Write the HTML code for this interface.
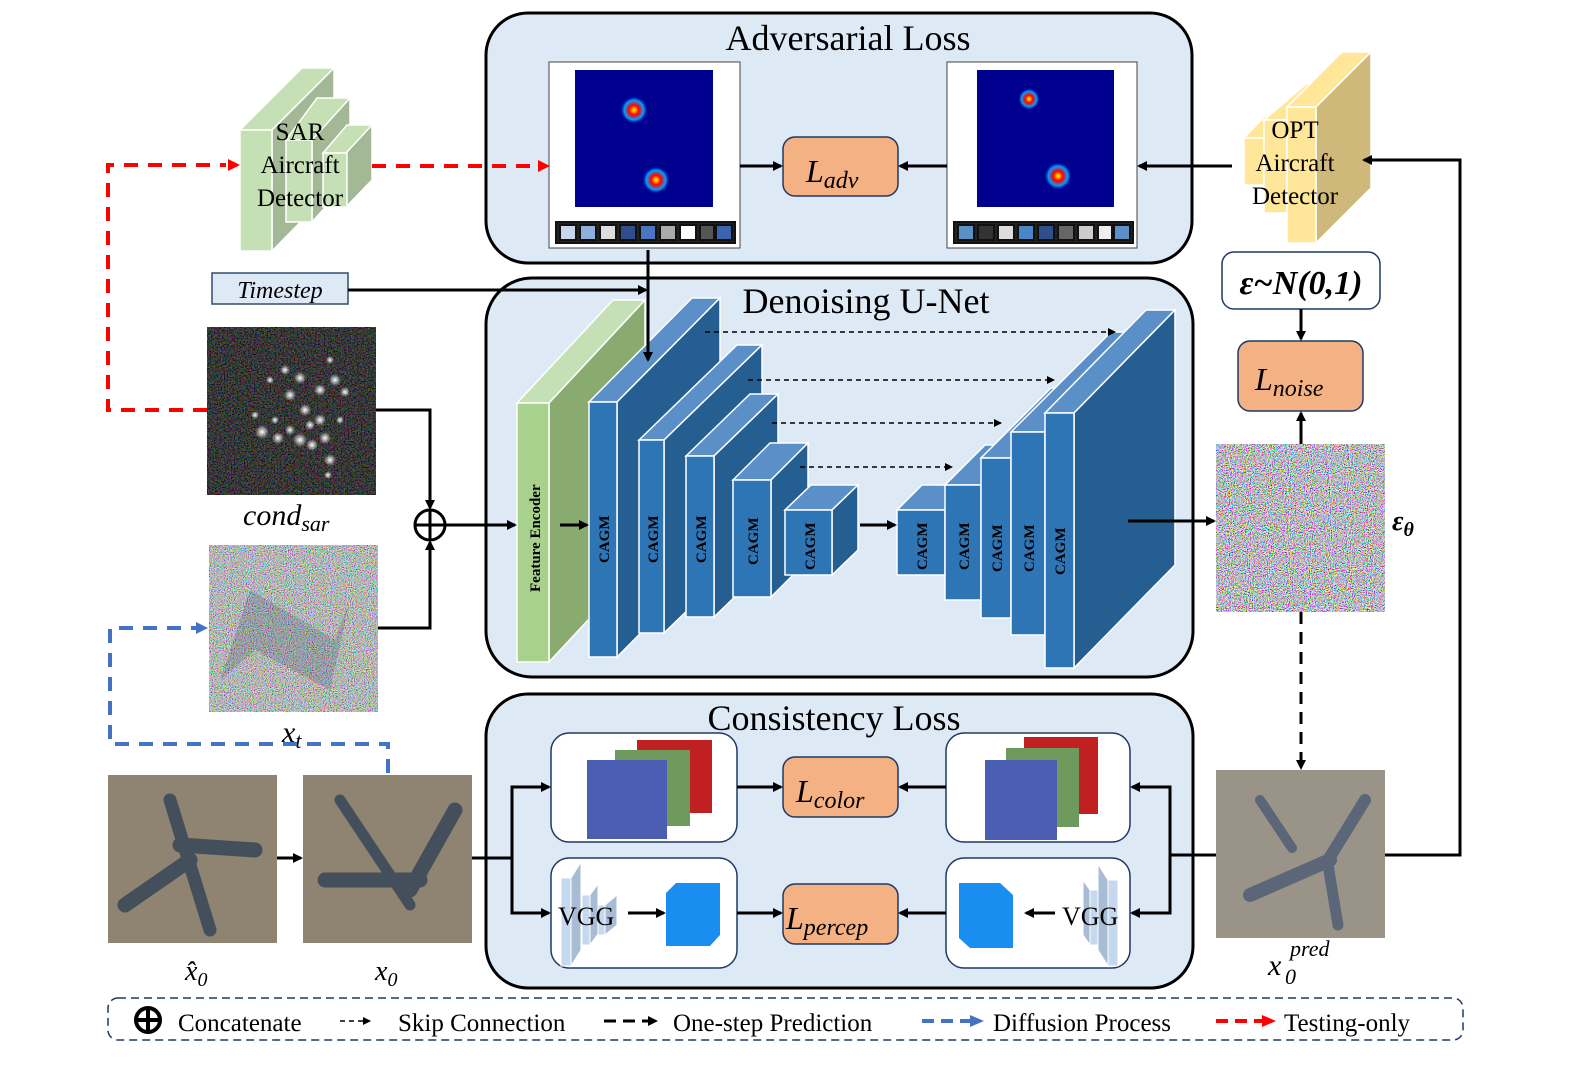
<!DOCTYPE html>
<html><head><meta charset="utf-8"><style>
html,body{margin:0;padding:0;background:#fff;}
svg{display:block;font-family:"Liberation Serif",serif;}
</style></head><body>
<svg width="1578" height="1065" viewBox="0 0 1578 1065" xmlns="http://www.w3.org/2000/svg">
<defs>
<marker id="ab" markerWidth="10" markerHeight="10" refX="8" refY="5" orient="auto" markerUnits="userSpaceOnUse"><path d="M0,0 L10,5 L0,10 z" fill="#000"/></marker>
<marker id="as" markerWidth="8" markerHeight="8" refX="7" refY="4" orient="auto" markerUnits="userSpaceOnUse"><path d="M0,0 L8,4 L0,8 z" fill="#000"/></marker>
<filter id="nz" x="0" y="0" width="100%" height="100%"><feTurbulence type="fractalNoise" baseFrequency="0.95" numOctaves="1" seed="3"/><feComponentTransfer><feFuncR type="linear" slope="3.2" intercept="-1.05"/><feFuncG type="linear" slope="3.2" intercept="-1.05"/><feFuncB type="linear" slope="3.2" intercept="-1.0"/><feFuncA type="linear" slope="0" intercept="1"/></feComponentTransfer></filter>
<filter id="nz2" x="0" y="0" width="100%" height="100%"><feTurbulence type="fractalNoise" baseFrequency="0.95" numOctaves="1" seed="7"/><feComponentTransfer><feFuncR type="linear" slope="2.2" intercept="-0.62"/><feFuncG type="linear" slope="2.2" intercept="-0.6"/><feFuncB type="linear" slope="2.2" intercept="-0.6"/><feFuncA type="linear" slope="0" intercept="1"/></feComponentTransfer></filter>
<filter id="nz3" x="0" y="0" width="100%" height="100%"><feTurbulence type="fractalNoise" baseFrequency="0.7" numOctaves="1" seed="11"/><feComponentTransfer><feFuncR type="linear" slope="1.2" intercept="-0.45"/><feFuncG type="linear" slope="1.2" intercept="-0.45"/><feFuncB type="linear" slope="1.2" intercept="-0.45"/><feFuncA type="linear" slope="0" intercept="1"/></feComponentTransfer></filter>
<radialGradient id="hot"><stop offset="0" stop-color="#ff0"/><stop offset="0.35" stop-color="#f00"/><stop offset="0.7" stop-color="#00a0ff"/><stop offset="1" stop-color="#0000a0" stop-opacity="0"/></radialGradient>
<radialGradient id="dot"><stop offset="0" stop-color="#fff"/><stop offset="1" stop-color="#fff" stop-opacity="0"/></radialGradient>
</defs>

<rect x="486" y="13" width="706" height="250" rx="42" fill="#dde9f5" stroke="#000" stroke-width="3"/>
<rect x="486" y="278" width="707" height="399" rx="46" fill="#dde9f5" stroke="#000" stroke-width="3"/>
<rect x="486" y="694" width="707" height="294" rx="42" fill="#dde9f5" stroke="#000" stroke-width="3"/>
<text x="848" y="50" font-size="36" text-anchor="middle">Adversarial Loss</text>
<text x="866" y="313" font-size="36" text-anchor="middle">Denoising U-Net</text>
<text x="834" y="730" font-size="36" text-anchor="middle">Consistency Loss</text>

<rect x="549" y="62" width="191" height="186" fill="#fff" stroke="#444"/>
<rect x="575" y="70" width="138" height="137" fill="#00008f"/>
<circle cx="634" cy="110" r="14" fill="url(#hot)"/>
<circle cx="656" cy="180" r="14" fill="url(#hot)"/>
<g stroke="#111" stroke-width="2">
<rect x="556" y="222" width="179" height="21" fill="#222"/>
<rect x="560" y="225" width="16" height="15" fill="#c8d6ea"/><rect x="580" y="225" width="16" height="15" fill="#8eb0dc"/><rect x="600" y="225" width="16" height="15" fill="#ddd"/><rect x="620" y="225" width="16" height="15" fill="#2f4e8c"/><rect x="640" y="225" width="16" height="15" fill="#4a76c0"/><rect x="660" y="225" width="16" height="15" fill="#aaa"/><rect x="680" y="225" width="16" height="15" fill="#fff"/><rect x="700" y="225" width="14" height="15" fill="#555"/><rect x="716" y="225" width="16" height="15" fill="#3a64b0"/>
</g>
<rect x="947" y="62" width="190" height="186" fill="#fff" stroke="#444"/>
<rect x="977" y="70" width="137" height="137" fill="#00008f"/>
<circle cx="1029" cy="99" r="11" fill="url(#hot)"/>
<circle cx="1058" cy="176" r="14" fill="url(#hot)"/>
<g stroke="#111" stroke-width="2">
<rect x="954" y="222" width="179" height="21" fill="#222"/>
<rect x="958" y="225" width="16" height="15" fill="#5b8fc7"/><rect x="978" y="225" width="16" height="15" fill="#333"/><rect x="998" y="225" width="16" height="15" fill="#ddd"/><rect x="1018" y="225" width="16" height="15" fill="#4a86c8"/><rect x="1038" y="225" width="16" height="15" fill="#2f4e8c"/><rect x="1058" y="225" width="16" height="15" fill="#666"/><rect x="1078" y="225" width="16" height="15" fill="#ccc"/><rect x="1098" y="225" width="14" height="15" fill="#eee"/><rect x="1114" y="225" width="16" height="15" fill="#5b8fc7"/>
</g>

<g fill="#f4b183" stroke="#1f3864" stroke-width="1.5">
<rect x="783" y="137" width="115" height="59" rx="12"/>
<rect x="783" y="757" width="115" height="60" rx="12"/>
<rect x="783" y="884" width="115" height="60" rx="12"/>
<rect x="1238" y="341" width="125" height="70" rx="12"/>
</g>
<g font-style="italic">
<text x="806" y="182" font-size="32">L<tspan font-size="24" dy="6">adv</tspan></text>
<text x="796" y="802" font-size="32">L<tspan font-size="24" dy="6">color</tspan></text>
<text x="786" y="929" font-size="32">L<tspan font-size="24" dy="6">percep</tspan></text>
<text x="1255" y="390" font-size="32">L<tspan font-size="24" dy="6">noise</tspan></text>
</g>

<g stroke="#fff" stroke-width="1.5">
<polygon points="240,130 302,68 334,68 272,130" fill="#c5e0b4"/>
<polygon points="272,130 334,68 334,188 272,251" fill="#a3b996"/>
<rect x="240" y="130" width="32" height="121" fill="#c5e0b4"/>
<polygon points="286,140 317,98 350,98 318,140" fill="#c5e0b4"/>
<polygon points="312,140 350,98 350,180 312,222" fill="#a3b996"/>
<rect x="286" y="140" width="26" height="82" fill="#c5e0b4"/>
<polygon points="323,153 347,125 372,125 348,153" fill="#c5e0b4"/>
<polygon points="346,153 372,125 372,180 346,207" fill="#a3b996"/>
<rect x="323" y="153" width="24" height="54" fill="#c5e0b4"/>
</g>
<text x="300" y="140" font-size="25" text-anchor="middle">SAR</text>
<text x="300" y="173" font-size="25" text-anchor="middle">Aircraft</text>
<text x="300" y="206" font-size="25" text-anchor="middle">Detector</text>

<g stroke="#fff" stroke-width="1.5">
<polygon points="1244,138 1265,116 1285,116 1264,138" fill="#ffe699"/>
<rect x="1244" y="138" width="20" height="47" fill="#ffe699"/>
<polygon points="1264,120 1306,84 1310,84 1287,120" fill="#ffe699"/>
<rect x="1264" y="120" width="23" height="93" fill="#ffe699"/>
<polygon points="1287,107 1342,52 1371,52 1316,107" fill="#ffe699"/>
<polygon points="1316,107 1371,52 1371,188 1316,243" fill="#cfb97a"/>
<rect x="1287" y="107" width="29" height="136" fill="#ffe699"/>
</g>
<text x="1295" y="138" font-size="25" text-anchor="middle">OPT</text>
<text x="1295" y="171" font-size="25" text-anchor="middle">Aircraft</text>
<text x="1295" y="204" font-size="25" text-anchor="middle">Detector</text>

<rect x="212" y="273" width="136" height="31" fill="#dde9f5" stroke="#2f4e6f" stroke-width="1.5"/>
<text x="280" y="298" font-size="24" font-style="italic" text-anchor="middle">Timestep</text>

<rect x="1222" y="252" width="158" height="57" rx="12" fill="#fff" stroke="#1f3864" stroke-width="1.5"/>
<text x="1301" y="294" font-size="34" font-style="italic" font-weight="bold" text-anchor="middle">ε~N(0,1)</text>

<!-- cond sar -->
<rect x="207" y="327" width="169" height="168" fill="#0c0c0c"/>
<rect x="207" y="327" width="169" height="168" filter="url(#nz3)" opacity="0.5"/>
<g fill="url(#dot)">
<circle cx="262" cy="432" r="7"/><circle cx="278" cy="438" r="6"/><circle cx="290" cy="430" r="5"/><circle cx="300" cy="440" r="7"/><circle cx="312" cy="445" r="6"/><circle cx="325" cy="438" r="6"/><circle cx="320" cy="420" r="6"/><circle cx="305" cy="410" r="6"/><circle cx="290" cy="395" r="6"/><circle cx="300" cy="378" r="6"/><circle cx="285" cy="370" r="5"/><circle cx="270" cy="380" r="4"/><circle cx="320" cy="390" r="6"/><circle cx="335" cy="380" r="6"/><circle cx="345" cy="392" r="5"/><circle cx="330" cy="360" r="4"/><circle cx="330" cy="460" r="6"/><circle cx="328" cy="475" r="4"/><circle cx="255" cy="415" r="4"/><circle cx="310" cy="425" r="5"/><circle cx="340" cy="420" r="4"/><circle cx="275" cy="420" r="4"/>
</g>
<text x="243" y="525" font-size="30" font-style="italic">cond<tspan font-size="22" dy="6">sar</tspan></text>

<!-- x_t -->
<rect x="209" y="545" width="169" height="167" filter="url(#nz2)"/>
<path d="M250,590 L335,640 L350,600 L330,690 L255,650 L220,680 Z" fill="#3a4a68" opacity="0.22"/>
<text x="282" y="742" font-size="30" font-style="italic">x<tspan font-size="22" dy="6">t</tspan></text>

<rect x="1216" y="444" width="169" height="168" filter="url(#nz)"/>
<text x="1392" y="530" font-size="28" font-style="italic" font-weight="bold">ε<tspan font-size="20" dy="6">θ</tspan></text>

<rect x="108" y="775" width="169" height="168" fill="#8f8372"/>
<g stroke="#444f5c" stroke-linecap="round" fill="none">
<line x1="170" y1="800" x2="210" y2="930" stroke-width="13"/>
<line x1="190" y1="860" x2="125" y2="905" stroke-width="15"/>
<line x1="180" y1="845" x2="255" y2="850" stroke-width="15"/>
</g>
<rect x="303" y="775" width="169" height="168" fill="#8f8372"/>
<g stroke="#444f5c" stroke-linecap="round" fill="none">
<line x1="340" y1="800" x2="410" y2="905" stroke-width="11"/>
<line x1="325" y1="880" x2="420" y2="880" stroke-width="15"/>
<line x1="410" y1="890" x2="455" y2="810" stroke-width="15"/>
</g>
<rect x="1216" y="770" width="169" height="168" fill="#9a9488"/>
<g stroke="#5b6678" stroke-linecap="round" fill="none">
<line x1="1250" y1="895" x2="1330" y2="860" stroke-width="14"/>
<line x1="1325" y1="865" x2="1365" y2="800" stroke-width="12"/>
<line x1="1328" y1="865" x2="1338" y2="925" stroke-width="11"/>
<line x1="1260" y1="800" x2="1292" y2="848" stroke-width="10"/>
</g>
<text x="185" y="980" font-size="28" font-style="italic">x̂<tspan font-size="20" dy="6">0</tspan></text>
<text x="375" y="980" font-size="28" font-style="italic">x<tspan font-size="20" dy="6">0</tspan></text>
<text x="1268" y="975" font-size="30" font-style="italic">x</text>
<text x="1285" y="984" font-size="22" font-style="italic">0</text>
<text x="1290" y="956" font-size="22" font-style="italic">pred</text>

<g stroke="#fff" stroke-width="1.5">
<polygon points="517,403 613,300 645,300 549,403" fill="#c5e0b4"/>
<polygon points="549,403 645,300 645,559 549,662" fill="#8aab70"/>
<rect x="517" y="403" width="32" height="259" fill="#a9d18e"/>
</g>
<text transform="translate(540,592) rotate(-90)" font-size="15" font-weight="bold">Feature Encoder</text>
<g stroke="#fff" stroke-width="1.5">
<polygon points="589,402 692,298 720,298 617,402" fill="#5b8fc7"/><polygon points="617,402 720,298 720,553 617,657" fill="#255e91"/><rect x="589" y="402" width="28" height="255" fill="#2e75b6"/>
<polygon points="639,440 737,345 762,345 664,440" fill="#5b8fc7"/><polygon points="664,440 762,345 762,538 664,633" fill="#255e91"/><rect x="639" y="440" width="25" height="193" fill="#2e75b6"/>
<polygon points="686,456 750,394 778,394 714,456" fill="#5b8fc7"/><polygon points="714,456 778,394 778,555 714,617" fill="#255e91"/><rect x="686" y="456" width="28" height="161" fill="#2e75b6"/>
<polygon points="733,480 770,443 808,443 771,480" fill="#5b8fc7"/><polygon points="771,480 808,443 808,560 771,597" fill="#255e91"/><rect x="733" y="480" width="38" height="117" fill="#2e75b6"/>
<polygon points="785,510 811,485 858,485 832,510" fill="#5b8fc7"/><polygon points="832,510 858,485 858,550 832,575" fill="#255e91"/><rect x="785" y="510" width="47" height="65" fill="#2e75b6"/>
<polygon points="897,510 922,485 970,485 945,510" fill="#5b8fc7"/><rect x="897" y="510" width="48" height="65" fill="#2e75b6"/>
<polygon points="945,485 985,445 1021,445 981,485" fill="#5b8fc7"/><rect x="945" y="485" width="36" height="115" fill="#2e75b6"/>
<polygon points="981,458 1051,388 1081,388 1011,458" fill="#5b8fc7"/><rect x="981" y="458" width="30" height="160" fill="#2e75b6"/>
<polygon points="1011,432 1111,332 1145,332 1045,432" fill="#5b8fc7"/><rect x="1011" y="432" width="34" height="203" fill="#2e75b6"/>
<polygon points="1045,413 1146,310 1175,310 1074,413" fill="#5b8fc7"/><polygon points="1074,413 1175,310 1175,565 1074,668" fill="#255e91"/><rect x="1045" y="413" width="29" height="255" fill="#2e75b6"/>
</g>
<g font-size="15" font-weight="bold">
<text transform="translate(609,563) rotate(-90)">CAGM</text>
<text transform="translate(658,563) rotate(-90)">CAGM</text>
<text transform="translate(706,563) rotate(-90)">CAGM</text>
<text transform="translate(758,565) rotate(-90)">CAGM</text>
<text transform="translate(815,570) rotate(-90)">CAGM</text>
<text transform="translate(927,570) rotate(-90)">CAGM</text>
<text transform="translate(969,570) rotate(-90)">CAGM</text>
<text transform="translate(1002,572) rotate(-90)">CAGM</text>
<text transform="translate(1034,572) rotate(-90)">CAGM</text>
<text transform="translate(1065,575) rotate(-90)">CAGM</text>
</g>
<g stroke="#000" stroke-width="1.5" stroke-dasharray="5,4" marker-end="url(#as)">
<line x1="705" y1="332" x2="1115" y2="332"/>
<line x1="748" y1="380" x2="1054" y2="380"/>
<line x1="772" y1="423" x2="1001" y2="423"/>
<line x1="800" y1="467" x2="952" y2="467"/>
</g>

<g fill="#fff" stroke="#1f3864" stroke-width="1.5">
<rect x="551" y="733" width="186" height="109" rx="18"/>
<rect x="946" y="733" width="184" height="109" rx="18"/>
<rect x="551" y="858" width="186" height="110" rx="18"/>
<rect x="946" y="858" width="184" height="110" rx="18"/>
</g>
<rect x="637" y="740" width="75" height="73" fill="#c0201f"/>
<rect x="615" y="750" width="75" height="76" fill="#6e9a5e"/>
<rect x="587" y="760" width="80" height="79" fill="#4a5fb4"/>
<rect x="1024" y="737" width="74" height="77" fill="#c0201f"/>
<rect x="1006" y="748" width="73" height="79" fill="#6e9a5e"/>
<rect x="985" y="760" width="72" height="80" fill="#4a5fb4"/>
<g stroke="#fff" stroke-width="1"><rect x="561" y="878" width="10" height="88" fill="#c5d8ee"/><polygon points="571,878 581,862 581,950 571,966" fill="#a9bcd6"/>
<rect x="582" y="895" width="8" height="50" fill="#c5d8ee"/><polygon points="590,895 598,884 598,934 590,945" fill="#a9bcd6"/>
<rect x="598" y="905" width="7" height="30" fill="#c5d8ee"/><polygon points="605,905 617,895 617,925 605,935" fill="#a9bcd6"/></g>
<text x="558" y="925" font-size="26">VGG</text>
<polygon points="666,893 676,883 720,883 720,935 710,946 666,946" fill="#1a8ef0"/>
<g stroke="#fff" stroke-width="1"><rect x="1108" y="880" width="10" height="86" fill="#c5d8ee"/><polygon points="1098,864 1108,880 1108,966 1098,950" fill="#a9bcd6"/>
<rect x="1090" y="890" width="8" height="55" fill="#c5d8ee"/><polygon points="1083,880 1090,890 1090,945 1083,935" fill="#a9bcd6"/></g>
<text x="1062" y="925" font-size="26">VGG</text>
<polygon points="959,883 1000,883 1013,895 1013,948 970,948 959,938" fill="#1a8ef0"/>

<circle cx="430" cy="525" r="15" fill="#fff" stroke="#000" stroke-width="3"/>
<line x1="415" y1="525" x2="445" y2="525" stroke="#000" stroke-width="3"/>
<line x1="430" y1="510" x2="430" y2="540" stroke="#000" stroke-width="3"/>

<g stroke="#000" stroke-width="3" fill="none" marker-end="url(#ab)">
<polyline points="376,410 430,410 430,508"/>
<polyline points="378,628 430,628 430,542"/>
<line x1="445" y1="525" x2="515" y2="525"/>
<line x1="560" y1="525" x2="587" y2="525"/>
<line x1="860" y1="525" x2="895" y2="525"/>
<line x1="1128" y1="521" x2="1214" y2="521"/>
<line x1="348" y1="290" x2="646" y2="290"/>
<line x1="648" y1="250" x2="648" y2="360"/>
<line x1="740" y1="166" x2="781" y2="166"/>
<line x1="947" y1="166" x2="900" y2="166"/>
<line x1="1232" y1="166" x2="1139" y2="166"/>
<polyline points="1385,855 1460,855 1460,160 1364,160"/>
<line x1="1301" y1="309" x2="1301" y2="339"/>
<line x1="1301" y1="444" x2="1301" y2="413"/>
<line x1="277" y1="858" x2="301" y2="858"/>
<polyline points="472,858 512,858 512,787 549,787"/>
<polyline points="512,858 512,913 549,913"/>
<line x1="737" y1="787" x2="781" y2="787"/>
<line x1="737" y1="913" x2="781" y2="913"/>
<line x1="946" y1="787" x2="900" y2="787"/>
<line x1="946" y1="913" x2="900" y2="913"/>
<polyline points="1216,855 1170,855 1170,787 1132,787"/>
<polyline points="1170,855 1170,913 1132,913"/>
<line x1="628" y1="913" x2="664" y2="913"/>
<line x1="1055" y1="913" x2="1026" y2="913"/>
</g>
<line x1="1301" y1="612" x2="1301" y2="768" stroke="#000" stroke-width="3" stroke-dasharray="12,8" marker-end="url(#ab)"/>

<g stroke="#f00" stroke-width="4" fill="none" stroke-dasharray="14,10">
<polyline points="207,410 108,410 108,165 226,165"/>
<line x1="372" y1="166" x2="536" y2="166"/>
</g>
<path d="M228,159 L240,165 L228,171 z" fill="#f00"/>
<path d="M538,160 L550,166 L538,172 z" fill="#f00"/>
<polyline points="388,773 388,744 110,744 110,628 196,628" stroke="#4472c4" stroke-width="4" fill="none" stroke-dasharray="14,10"/>
<path d="M196,622 L208,628 L196,634 z" fill="#4472c4"/>

<rect x="108" y="998" width="1355" height="42" rx="10" fill="#fff" stroke="#1f3864" stroke-width="1.5" stroke-dasharray="8,5"/>
<circle cx="148" cy="1020" r="12" fill="none" stroke="#000" stroke-width="4"/>
<line x1="136" y1="1020" x2="160" y2="1020" stroke="#000" stroke-width="4"/>
<line x1="148" y1="1008" x2="148" y2="1032" stroke="#000" stroke-width="4"/>
<text x="178" y="1031" font-size="25">Concatenate</text>
<line x1="340" y1="1021" x2="370" y2="1021" stroke="#000" stroke-width="1.5" stroke-dasharray="5,4" marker-end="url(#as)"/>
<text x="398" y="1031" font-size="25">Skip Connection</text>
<line x1="604" y1="1021" x2="656" y2="1021" stroke="#000" stroke-width="3" stroke-dasharray="12,7" marker-end="url(#ab)"/>
<text x="673" y="1031" font-size="25">One-step Prediction</text>
<line x1="922" y1="1021" x2="970" y2="1021" stroke="#4472c4" stroke-width="4" stroke-dasharray="12,7"/>
<path d="M970,1015 L984,1021 L970,1027 z" fill="#4472c4"/>
<text x="993" y="1031" font-size="25">Diffusion Process</text>
<line x1="1216" y1="1021" x2="1262" y2="1021" stroke="#f00" stroke-width="4" stroke-dasharray="12,7"/>
<path d="M1262,1015 L1276,1021 L1262,1027 z" fill="#f00"/>
<text x="1284" y="1031" font-size="25">Testing-only</text>
</svg>
</body></html>
